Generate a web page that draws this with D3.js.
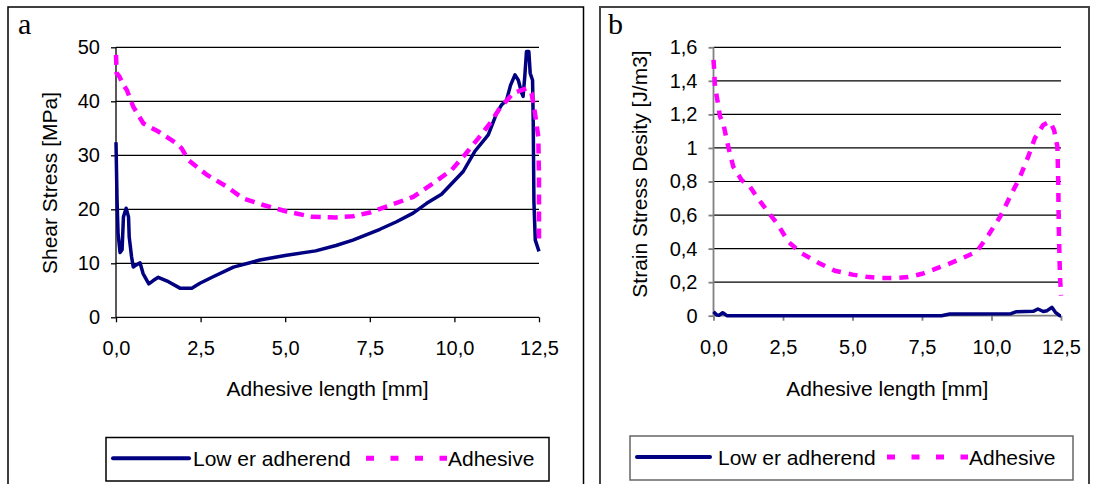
<!DOCTYPE html>
<html><head><meta charset="utf-8">
<script src="https://cdn.jsdelivr.net/npm/d3@7"></script>
<style>body{margin:0;background:#fff}svg{display:block}text{font-family:"Liberation Sans",Arial,sans-serif;fill:#000}</style>
</head><body><svg id="c" width="1095" height="484"></svg>
<script>
// ---------- data ----------
const xTicks = [0, 2.5, 5, 7.5, 10, 12.5];
const xTickLabels = ["0,0", "2,5", "5,0", "7,5", "10,0", "12,5"];
const yTicksA = [0, 10, 20, 30, 40, 50];
const yTickLabelsA = ["0", "10", "20", "30", "40", "50"];
const yTicksB = [0, 0.2, 0.4, 0.6, 0.8, 1, 1.2, 1.4, 1.6];
const yTickLabelsB = ["0", "0,2", "0,4", "0,6", "0,8", "1", "1,2", "1,4", "1,6"];
const seriesNames = ["Low er adherend", "Adhesive"];

// panel a: shear stress [MPa]
const lowerA_x = [0,0.03,0.06,0.12,0.18,0.22,0.30,0.37,0.39,0.46,0.51,0.60,0.71,0.80,0.97,1.10,1.25,1.55,1.89,2.24,2.48,2.87,3.47,4.25,5.04,5.9,6.5,7.0,7.8,8.29,8.78,9.18,9.62,10.26,10.6,11.0,11.25,11.39,11.54,11.66,11.79,11.89,11.99,12.03,12.08,12.13,12.2,12.24,12.31,12.33,12.35,12.39,12.5];
const lowerA_y = [32.4,22,15.6,12.0,12.5,18.6,20.2,18.6,14.9,11.2,9.3,9.7,10.1,8.1,6.2,6.8,7.4,6.6,5.4,5.4,6.3,7.5,9.3,10.6,11.5,12.3,13.3,14.3,16.3,17.7,19.3,21.1,22.8,27.0,30.7,33.8,37.8,39.3,40.2,43.0,44.9,43.9,41.5,40.9,44.6,49.2,49.2,45.2,43.9,35.9,21.4,14.3,12.2];
const adhA_x = [0,0.02,0.1,0.22,0.32,0.51,0.81,1.25,1.79,1.94,2.14,2.68,3.27,3.76,4.35,5.04,5.8,6.5,7.0,7.5,7.99,8.78,9.37,9.92,10.31,10.7,11.05,11.34,11.74,12.13,12.28,12.38,12.48,12.5,12.5];
const adhA_y = [48.6,45.2,44.6,43.0,42.1,39.0,35.9,34.4,32.2,31.3,29.1,26.4,24.2,22.0,20.8,19.6,18.6,18.5,18.7,19.4,20.5,22.3,24.8,27.3,30.1,33.1,35.9,38.7,41.5,42.4,41.5,37.8,33.4,25.4,14.0];

// panel b: strain energy density [J/m3]
const lowerB_x = [0,0.12,0.2,0.33,0.48,8.2,8.5,10.7,10.9,11.5,11.67,11.86,12.0,12.17,12.3,12.45,12.5];
const lowerB_y = [0.024,0.004,0.002,0.018,0.0,0.0,0.01,0.012,0.024,0.026,0.04,0.025,0.03,0.05,0.02,0.0,0.0];
const adhB_x = [0,0.03,0.05,0.17,0.23,0.35,0.53,0.71,1.01,1.31,1.55,1.91,2.33,2.69,3.17,3.77,4.37,5.0,5.5,6.0,6.5,7.0,7.5,8.0,8.4,8.8,9.47,9.89,10.31,10.67,11.03,11.32,11.56,11.86,12.1,12.25,12.37,12.4,12.42,12.46,12.5];
const adhB_y = [1.525,1.45,1.37,1.256,1.19,1.147,1.008,0.889,0.809,0.769,0.71,0.63,0.54,0.441,0.372,0.316,0.268,0.245,0.232,0.225,0.225,0.23,0.25,0.28,0.305,0.332,0.382,0.481,0.59,0.71,0.829,0.948,1.058,1.137,1.157,1.107,1.008,0.81,0.53,0.25,0.12];

const NAVY = "#000080", MAG = "#ff00ff";
const svg = d3.select("#c");

function panel(o) {
  const g = svg.append("g");
  // frame
  g.append("rect").attr("x", o.frame[0]).attr("y", o.frame[1]).attr("width", o.frame[2]).attr("height", o.frame[3])
    .attr("fill", "none").attr("stroke", o.frameColor).attr("stroke-width", o.frameW);
  g.append("text").text(o.letter).attr("x", o.letterX).attr("y", 34)
    .style("font-family", "'Liberation Serif','Times New Roman',serif").style("font-size", "30px");

  const x = d3.scaleLinear().domain([0, 12.5]).range([o.left, o.right]);
  const y = d3.scaleLinear().domain(o.yDomain).range([o.bottom, o.top]);

  // gridlines
  g.append("g").selectAll("line").data(o.yTicks.filter(d => d !== 0)).join("line")
    .attr("x1", o.left).attr("x2", o.right).attr("y1", d => y(d)).attr("y2", d => y(d))
    .attr("stroke", "#000").attr("stroke-width", 1.2);

  const yAxis = d3.axisLeft(y).tickValues(o.yTicks).tickSize(5).tickPadding(11)
    .tickFormat((d, i) => o.yLabels[i]);
  const ya = g.append("g").attr("transform", `translate(${o.left},0)`).call(yAxis);
  ya.selectAll("text").style("font-size", "20px").style("font-family", "'Liberation Sans',Arial,sans-serif");
  ya.selectAll("line, path").attr("stroke", o.axisColor).attr("stroke-width", o.axisW);
  ya.select("path").attr("d", `M-5,${o.bottom}H0V${o.top}H-5`).attr("d", `M0,${o.bottom}V${o.top}`);

  const xAxis = d3.axisBottom(x).tickValues(xTicks).tickSize(5).tickPadding(19)
    .tickFormat((d, i) => xTickLabels[i]);
  const xa = g.append("g").attr("transform", `translate(0,${o.bottom})`).call(xAxis);
  xa.selectAll("text").style("font-size", "20px").style("font-family", "'Liberation Sans',Arial,sans-serif");
  xa.selectAll("line, path").attr("stroke", o.axisColor).attr("stroke-width", o.axisW);
  xa.select("path").attr("d", `M${o.left},0H${o.right}`);

  // axis titles
  g.append("text").text("Adhesive length [mm]").attr("x", (o.left + o.right) / 2).attr("y", 396)
    .attr("text-anchor", "middle").style("font-size", "21px");
  g.append("text").text(o.yTitle).attr("text-anchor", "middle")
    .attr("transform", `translate(${o.yTitleX},${o.yTitleY}) rotate(-90)`).style("font-size", "21px");

  const line = d3.line().x(d => x(d[0])).y(d => y(d[1]));
  const lower = o.lx.map((v, i) => [v, o.ly[i]]);
  const adh = o.ax.map((v, i) => [v, o.ay[i]]);
  g.append("path").datum(lower).attr("d", line).attr("fill", "none").attr("stroke", NAVY)
    .attr("stroke-width", 3.5).attr("stroke-linejoin", "round");
  g.append("path").datum(adh).attr("d", line).attr("fill", "none").attr("stroke", MAG)
    .attr("stroke-width", 4.5).attr("stroke-dasharray", o.dash);

  // legend
  const L = o.legend;
  g.append("rect").attr("x", L.x).attr("y", L.y).attr("width", L.w).attr("height", L.h)
    .attr("fill", "#fff").attr("stroke", o.legendStroke).attr("stroke-width", 1.5);
  const cy = L.y + L.h / 2;
  g.append("line").attr("x1", L.l1[0]).attr("x2", L.l1[1]).attr("y1", cy - 1).attr("y2", cy - 1)
    .attr("stroke", NAVY).attr("stroke-width", 4).attr("stroke-linecap", "round");
  g.append("text").text(seriesNames[0]).attr("x", L.t1).attr("y", cy + 7).style("font-size", "21px");
  g.append("line").attr("x1", L.l2[0]).attr("x2", L.l2[1]).attr("y1", cy - 1).attr("y2", cy - 1)
    .attr("stroke", MAG).attr("stroke-width", 5).attr("stroke-dasharray", "8,16.5");
  g.append("text").text(seriesNames[1]).attr("x", L.t2).attr("y", cy + 7).style("font-size", "21px");
}

panel({
  frame: [8, 7, 575.5, 500], frameColor: "#000", frameW: 1.5, letter: "a", letterX: 18,
  left: 116, right: 539, top: 47.3, bottom: 317.3, yDomain: [0, 50],
  yTicks: yTicksA, yLabels: yTickLabelsA, axisColor: "#000", axisW: 1.3,
  yTitle: "Shear Stress [MPa]", yTitleX: 56.5, yTitleY: 183,
  lx: lowerA_x, ly: lowerA_y, ax: adhA_x, ay: adhA_y, dash: "10,7",
  legendStroke: "#000",
  legend: { x: 106, y: 437.5, w: 443, h: 43.5, l1: [113, 189], t1: 193, l2: [366, 447], t2: 448 }
});
panel({
  frame: [600, 7, 489, 500], frameColor: "#444", frameW: 2, letter: "b", letterX: 608,
  left: 713.5, right: 1061, top: 47.3, bottom: 315.7, yDomain: [0, 1.6],
  yTicks: yTicksB, yLabels: yTickLabelsB, axisColor: "#808080", axisW: 1.8,
  yTitle: "Strain Stress Desity [J/m3]", yTitleX: 647, yTitleY: 174,
  lx: lowerB_x, ly: lowerB_y, ax: adhB_x, ay: adhB_y, dash: "9,8",
  legendStroke: "#666",
  legend: { x: 630, y: 436, w: 443, h: 44, l1: [637, 710], t1: 718, l2: [887, 968], t2: 969 }
});
</script></body></html>
